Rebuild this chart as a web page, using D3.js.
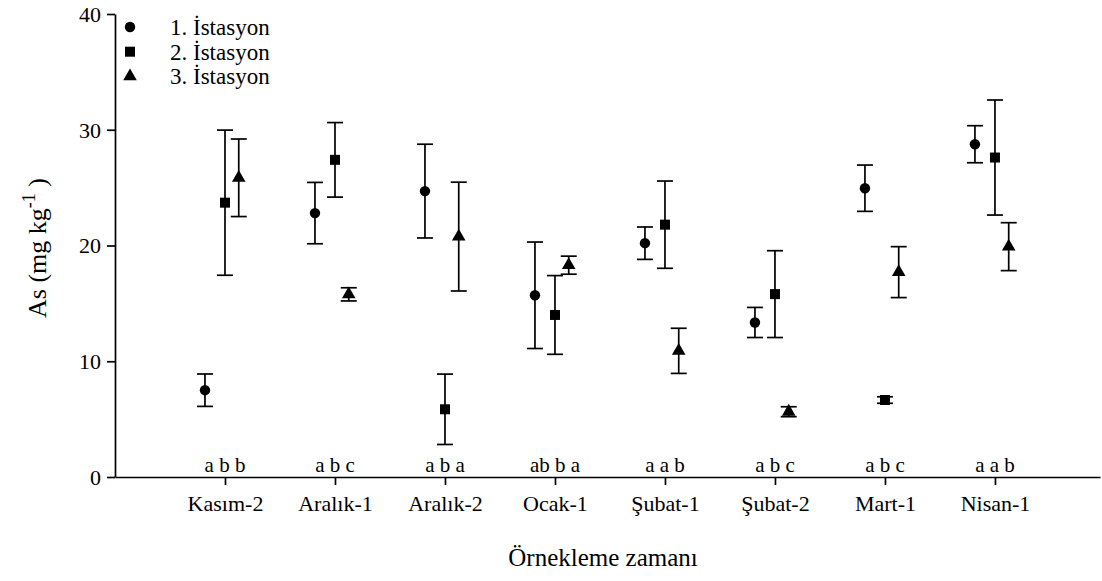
<html>

<head>
    <script src="https://d3js.org/d3.v7.min.js"></script>
    <style>
        body { margin: 0; background: #fff; }
        .axis path, .axis line { stroke: #000; stroke-width: 1.7; }
    </style>
</head>

<body>
    <script>
        var categories = ['Kasım-2', 'Aralık-1', 'Aralık-2', 'Ocak-1', 'Şubat-1', 'Şubat-2', 'Mart-1', 'Nisan-1'];
        var seriesNames = ['1. İstasyon', '2. İstasyon', '3. İstasyon'];

        // mean and error (sd) per station
        var st1 = [7.5, 22.8, 24.7, 15.7, 20.2, 13.35, 24.95, 28.75];
        var st1Err = [1.4, 2.65, 4.05, 4.6, 1.4, 1.3, 2.0, 1.6];
        var st2 = [23.7, 27.4, 5.85, 14.0, 21.8, 15.8, 6.65, 27.6];
        var st2Err = [6.27, 3.22, 3.04, 3.4, 3.77, 3.75, 0.28, 4.97];
        var st3 = [25.85, 15.78, 20.77, 18.3, 10.9, 5.64, 17.7, 19.9];
        var st3Err = [3.35, 0.57, 4.7, 0.78, 1.95, 0.43, 2.2, 2.07];

        var letters = ['a b b', 'a b c', 'a b a', 'ab b a', 'a a b', 'a b c', 'a b c', 'a a b'];
        var yTicks = [0, 10, 20, 30, 40];

        var serif = 'Liberation Serif';

        var w = 1102, h = 581;
        var margin = { left: 115, top: 14, bottom: 104 };

        var svg = d3.select('body')
            .append('svg')
            .attr('width', w)
            .attr('height', h)
            .attr('font-family', serif);

        var x = d3.scaleLinear().domain([0, 8.955]).range([margin.left, 1100]);
        var y = d3.scaleLinear().domain([0, 40]).range([h - margin.bottom, margin.top]);

        // horizontal offset of each station inside a group
        var offsets = [-0.182, 0, 0.125];

        var yAxis = svg.append('g')
            .attr('class', 'axis')
            .attr('transform', 'translate(' + margin.left + ',0)')
            .call(d3.axisLeft(y).tickValues(yTicks).tickSize(8).tickSizeOuter(0).tickPadding(6));
        yAxis.selectAll('text')
            .attr('font-family', serif).attr('font-size', 22).attr('dy', '0.34em');

        var xAxis = svg.append('g')
            .attr('class', 'axis')
            .attr('transform', 'translate(0,' + y(0) + ')')
            .call(d3.axisBottom(x)
                .tickValues(d3.range(1, categories.length + 1))
                .tickFormat((d) => categories[d - 1])
                .tickSize(8).tickSizeOuter(0).tickPadding(10));
        xAxis.selectAll('text')
            .attr('font-family', serif).attr('font-size', 22);

        var symbols = [d3.symbolCircle, d3.symbolSquare, d3.symbolTriangle];
        var sizes = [85, 100, 80];
        var data = [[st1, st1Err], [st2, st2Err], [st3, st3Err]];

        data.forEach((s, si) => {
            var pts = s[0].map((v, i) => ({ cx: x(i + 1 + offsets[si]), v: v, e: s[1][i] }));
            var g = svg.append('g');

            g.selectAll('line.bar')
                .data(pts)
                .enter()
                .append('line')
                .attr('x1', (d) => d.cx).attr('x2', (d) => d.cx)
                .attr('y1', (d) => y(d.v + d.e)).attr('y2', (d) => y(d.v - d.e))
                .attr('stroke', '#000').attr('stroke-width', 1.7);

            [1, -1].forEach((sign) => {
                g.selectAll('line.cap' + sign)
                    .data(pts)
                    .enter()
                    .append('line')
                    .attr('x1', (d) => d.cx - 8).attr('x2', (d) => d.cx + 8)
                    .attr('y1', (d) => y(d.v + sign * d.e)).attr('y2', (d) => y(d.v + sign * d.e))
                    .attr('stroke', '#000').attr('stroke-width', 1.7);
            });

            g.selectAll('path')
                .data(pts)
                .enter()
                .append('path')
                .attr('d', d3.symbol().type(symbols[si]).size(sizes[si]))
                .attr('transform', (d) => 'translate(' + d.cx + ',' + y(d.v) + ')')
                .attr('fill', '#000');
        });

        // significance letters
        svg.selectAll('text.letters')
            .data(letters)
            .enter()
            .append('text')
            .attr('class', 'letters')
            .attr('x', (d, i) => x(i + 1))
            .attr('y', y(0) - 5)
            .attr('text-anchor', 'middle')
            .attr('font-family', serif)
            .attr('font-size', 21)
            .text((d) => d);

        // legend
        var legend = svg.append('g');
        seriesNames.forEach((name, i) => {
            legend.append('path')
                .attr('d', d3.symbol().type(symbols[i]).size(sizes[i]))
                .attr('transform', 'translate(130,' + (27 + i * 24.7) + ')')
                .attr('fill', '#000');
            legend.append('text')
                .attr('x', 170)
                .attr('y', 27 + i * 24.7 + 8)
                .attr('font-family', serif)
                .attr('font-size', 23)
                .text(name);
        });

        // axis titles
        svg.append('text')
            .attr('x', 603)
            .attr('y', 566)
            .attr('text-anchor', 'middle')
            .attr('font-family', serif)
            .attr('font-size', 25)
            .text('Örnekleme zamanı');

        var yTitle = svg.append('text')
            .attr('transform', 'translate(46,248) rotate(-90)')
            .attr('text-anchor', 'middle')
            .attr('font-family', serif)
            .attr('font-size', 26);
        yTitle.append('tspan').text('As (mg kg');
        yTitle.append('tspan').attr('dy', -11).attr('font-size', 18).text('-1');
        yTitle.append('tspan').attr('dy', 11).text(' )');
    </script>
</body>

</html>
